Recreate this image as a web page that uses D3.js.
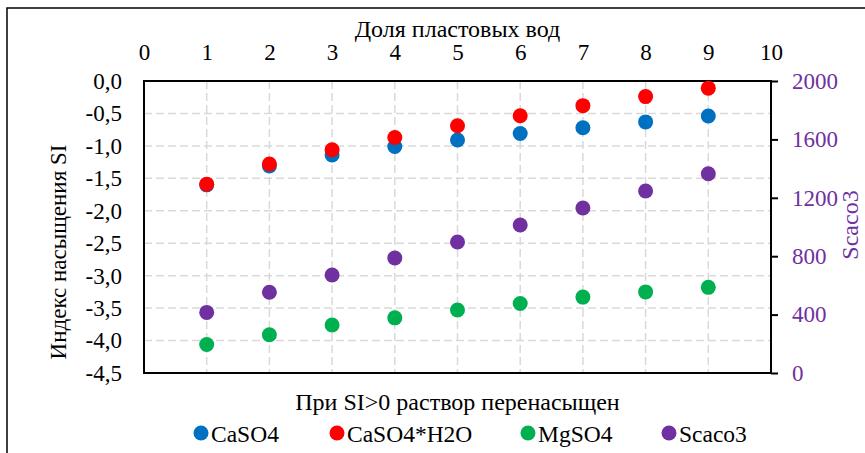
<!DOCTYPE html>
<html>
<head>
<meta charset="utf-8">
<script src="https://cdn.jsdelivr.net/npm/d3@7"></script>
<style>
  body { margin: 0; background: #fff; }
  svg text { font-family: 'Liberation Serif', 'Times New Roman', serif; }
</style>
</head>
<body>
<div id="chart"></div>
<script>
// data
var shares = [1, 2, 3, 4, 5, 6, 7, 8, 9]
var caso4 = [-1.60, -1.31, -1.14, -1.01, -0.91, -0.81, -0.72, -0.63, -0.54]
var caso4h2o = [-1.59, -1.28, -1.06, -0.87, -0.69, -0.535, -0.38, -0.24, -0.11]
var mgso4 = [-4.06, -3.91, -3.76, -3.65, -3.53, -3.43, -3.33, -3.25, -3.18]
var scaco3 = [415, 553, 671, 788, 897, 1014, 1130, 1247, 1365]

var xTicks = d3.range(0, 11)
var siTicks = d3.range(0, -4.51, -0.5)
var scTicks = [0, 400, 800, 1200, 1600, 2000]

var series = [
  {name: 'CaSO4', values: caso4, color: '#0070C0', axis: 'left'},
  {name: 'CaSO4*H2O', values: caso4h2o, color: '#FF0000', axis: 'left'},
  {name: 'MgSO4', values: mgso4, color: '#00B050', axis: 'left'},
  {name: 'Scaco3', values: scaco3, color: '#7030A0', axis: 'right'},
]

var W = 865, H = 453
var m = {left: 144, top: 81, right: 865 - 771, bottom: 453 - 373}
var width = W - m.left - m.right
var height = H - m.top - m.bottom

var svg = d3.select('#chart').append('svg')
  .attr('width', W).attr('height', H)

// outer frame (right and bottom edges fall off the canvas)
svg.append('rect')
  .attr('x', 7).attr('y', 8).attr('width', 880).attr('height', 470)
  .attr('fill', 'none').attr('stroke', '#000').attr('stroke-width', 1.5)

var g = svg.append('g').attr('transform', `translate(${m.left},${m.top})`)

var x = d3.scaleLinear().domain([0, 10]).range([0, width])
var y = d3.scaleLinear().domain([-4.5, 0]).range([height, 0])
var y2 = d3.scaleLinear().domain([0, 2000]).range([height, 0])

// gridlines
g.append('g').selectAll('line.h')
  .data(siTicks.filter(d => d > -4.5 && d < 0))
  .join('line')
  .attr('x1', 0).attr('x2', width)
  .attr('y1', d => y(d)).attr('y2', d => y(d))
  .attr('stroke', '#d9d9d9').attr('stroke-width', 1.5).attr('stroke-dasharray', '8,4')

g.append('g').selectAll('line.v')
  .data(xTicks.filter(d => d > 0 && d < 10))
  .join('line')
  .attr('x1', d => x(d)).attr('x2', d => x(d))
  .attr('y1', 0).attr('y2', height)
  .attr('stroke', '#d9d9d9').attr('stroke-width', 1.5).attr('stroke-dasharray', '8,4')

// axes
var topAxis = g.append('g')
  .call(d3.axisTop(x).tickValues(xTicks).tickSize(0).tickPadding(21).tickFormat(d3.format('d')))
var leftAxis = g.append('g')
  .call(d3.axisLeft(y).tickValues(siTicks).tickSize(0).tickPadding(22)
    .tickFormat(d => d3.format('.1f')(d).replace('.', ',').replace('−', '-')))
var rightAxis = g.append('g').attr('transform', `translate(${width},0)`)
  .call(d3.axisRight(y2).tickValues(scTicks).tickSize(7).tickPadding(14).tickFormat(d3.format('d')))

;[topAxis, leftAxis, rightAxis].forEach(a => {
  a.select('.domain').remove()
  a.selectAll('text').attr('font-size', 23).attr('fill', '#000')
})
rightAxis.selectAll('text').attr('fill', '#7030A0')
rightAxis.selectAll('line').attr('stroke', '#000').attr('stroke-width', 2)

// plot border
g.append('rect')
  .attr('width', width).attr('height', height)
  .attr('fill', 'none').attr('stroke', '#000').attr('stroke-width', 2)

// dots
series.forEach(s => {
  var yy = s.axis == 'right' ? y2 : y
  g.append('g').selectAll('circle')
    .data(s.values)
    .join('circle')
    .attr('cx', (d, i) => x(shares[i]))
    .attr('cy', d => yy(d))
    .attr('r', 7.5)
    .attr('fill', s.color)
})

// titles
svg.append('text')
  .attr('x', m.left + width / 2).attr('y', 37)
  .attr('text-anchor', 'middle').attr('font-size', 24)
  .text('Доля пластовых вод')

svg.append('text')
  .attr('transform', 'translate(66,252) rotate(-90)')
  .attr('text-anchor', 'middle').attr('font-size', 23)
  .text('Индекс насыщения SI')

svg.append('text')
  .attr('transform', 'translate(858,225) rotate(-90)')
  .attr('text-anchor', 'middle').attr('font-size', 24).attr('fill', '#7030A0')
  .text('Scaco3')

svg.append('text')
  .attr('x', m.left + width / 2).attr('y', 410)
  .attr('text-anchor', 'middle').attr('font-size', 24)
  .text('При SI>0 раствор перенасыщен')

// legend
var legendX = [201, 337, 528, 669]
var legend = svg.append('g').selectAll('g')
  .data(series)
  .join('g')
  .attr('transform', (d, i) => `translate(${legendX[i]},433)`)

legend.append('circle').attr('r', 7.5).attr('fill', d => d.color)
legend.append('text')
  .attr('x', 10).attr('y', 9)
  .attr('font-size', 23.5)
  .text(d => d.name)
</script>
</body>
</html>
